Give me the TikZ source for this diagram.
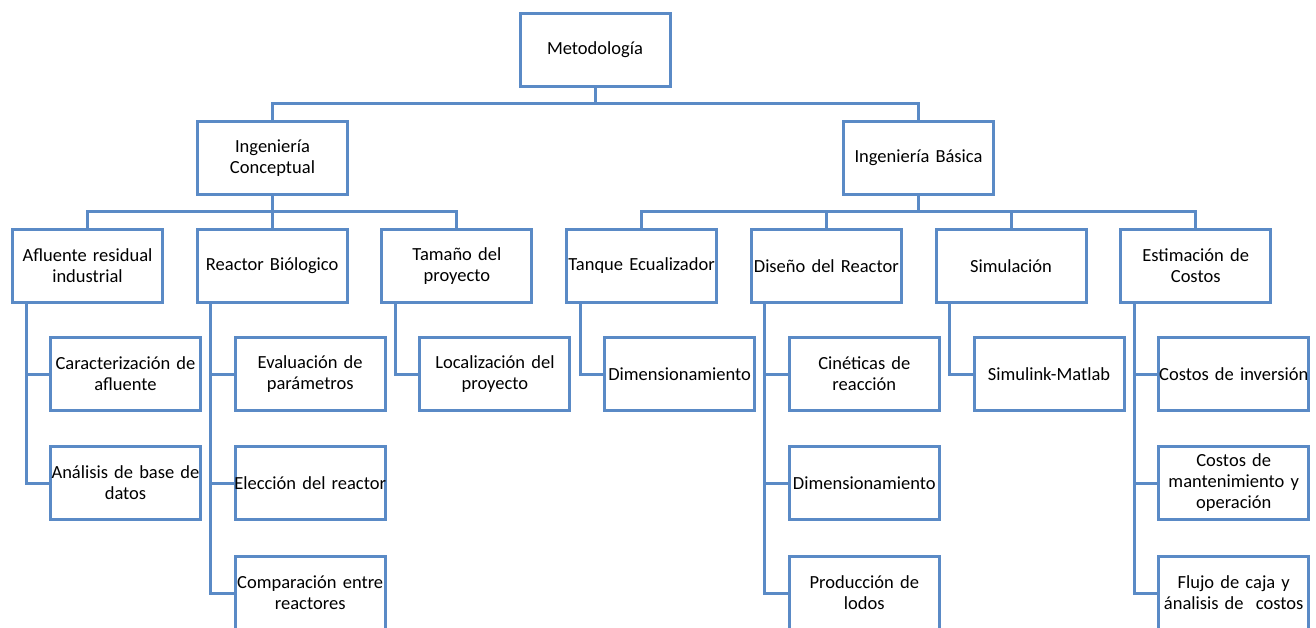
\documentclass[tikz,border=0pt]{standalone}
\usepackage{fontspec}
\setmainfont{Carlito}
\definecolor{lineblue}{HTML}{5A8AC6}
\begin{document}
\begin{tikzpicture}[x=1pt,y=-1pt,
  box/.style={draw=lineblue, line width=3pt, fill=white, outer sep=0pt, inner sep=0pt,
    minimum width=150pt, minimum height=73pt, align=center, text width=150pt,
    font=\fontsize{18.5}{21}\selectfont},
  conn/.style={draw=lineblue, line width=3pt}]
\useasboundingbox (0,0) rectangle (1316,628);
\clip (0,0) rectangle (1316,628);
\fill[white] (0,0) rectangle (1316,628);

% level 1
\node[box] (met) at (595,50) {Metodología};
% level 2
\node[box] (ic) at (272.5,158) {Ingeniería\\Conceptual};
\node[box] (ib) at (918.5,158) {Ingeniería Básica};
% level 3
\node[box] (afl) at (87.5,266) {Afluente residual\\industrial};
\node[box] (rb)  at (272.2,266) {Reactor Biólogico};
\node[box] (tam) at (456.9,266) {Tamaño del\\proyecto};
\node[box] (tan) at (641.6,266) {\makebox[150pt][c]{Tanque Ecualizador}};
\node[box] (dis) at (826.3,266) {Diseño del Reactor};
\node[box] (sim) at (1011,266) {Simulación};
\node[box] (est) at (1195.7,266) {Estimación de\\Costos};
% level 4
\node[box] (car) at (125.5,374) {\makebox[150pt][c]{Caracterización de}\\afluente};
\node[box] (ana) at (125.5,483) {\makebox[150pt][c]{Análisis de base de}\\datos};
\node[box] (eva) at (310.2,374) {Evaluación de\\parámetros};
\node[box] (ele) at (310.2,483) {\makebox[150pt][c]{Elección del reactor}};
\node[box] (com) at (310.2,593) {\makebox[150pt][c]{Comparación entre}\\reactores};
\node[box] (loc) at (494.9,374) {Localización del\\proyecto};
\node[box] (dim1) at (679.6,374) {\makebox[150pt][c]{Dimensionamiento}};
\node[box] (cin) at (864.3,374) {Cinéticas de\\reacción};
\node[box] (dim2) at (864.3,483) {\makebox[150pt][c]{Dimensionamiento}};
\node[box] (pro) at (864.3,593) {Producción de\\lodos};
\node[box] (smk) at (1049,374) {Simulink-Matlab};
\node[box] (cin2) at (1233.7,374) {\makebox[150pt][c]{Costos de inversión}};
\node[box] (cman) at (1233.7,483) {Costos de\\mantenimiento y\\operación};
\node[box] (flu) at (1233.7,593) {Flujo de caja y\\\makebox[150pt][c]{ánalisis de~ costos}};

% level 1 -> 2
\coordinate (h1) at (595,104);
\draw[conn] (met.south) -- (h1);
\draw[conn] (ic.north) -- (ic.north |- h1) -- (ib.north |- h1) -- (ib.north);
% level 2 -> 3
\coordinate (h2) at (0,212);
\draw[conn] (ic.south) -- (ic.south |- h2);
\draw[conn] (afl.north) -- (afl.north |- h2) -- (tam.north |- h2) -- (tam.north);
\draw[conn] (rb.north) -- (rb.north |- h2);
\draw[conn] (ib.south) -- (ib.south |- h2);
\draw[conn] (tan.north) -- (tan.north |- h2) -- (est.north |- h2) -- (est.north);
\draw[conn] (dis.north) -- (dis.north |- h2);
\draw[conn] (sim.north) -- (sim.north |- h2);
% level 3 -> 4
\draw[conn] ([xshift=13.5pt]afl.south west) |- (ana.west);
\draw[conn] ([xshift=13.5pt]afl.south west |- car.west) -- (car.west);
\draw[conn] ([xshift=13.5pt]rb.south west) |- (com.west);
\draw[conn] ([xshift=13.5pt]rb.south west |- eva.west) -- (eva.west);
\draw[conn] ([xshift=13.5pt]rb.south west |- ele.west) -- (ele.west);
\draw[conn] ([xshift=13.5pt]tam.south west) |- (loc.west);
\draw[conn] ([xshift=13.5pt]tan.south west) |- (dim1.west);
\draw[conn] ([xshift=13.5pt]dis.south west) |- (pro.west);
\draw[conn] ([xshift=13.5pt]dis.south west |- cin.west) -- (cin.west);
\draw[conn] ([xshift=13.5pt]dis.south west |- dim2.west) -- (dim2.west);
\draw[conn] ([xshift=13.5pt]sim.south west) |- (smk.west);
\draw[conn] ([xshift=13.5pt]est.south west) |- (flu.west);
\draw[conn] ([xshift=13.5pt]est.south west |- cin2.west) -- (cin2.west);
\draw[conn] ([xshift=13.5pt]est.south west |- cman.west) -- (cman.west);
\end{tikzpicture}
\end{document}
